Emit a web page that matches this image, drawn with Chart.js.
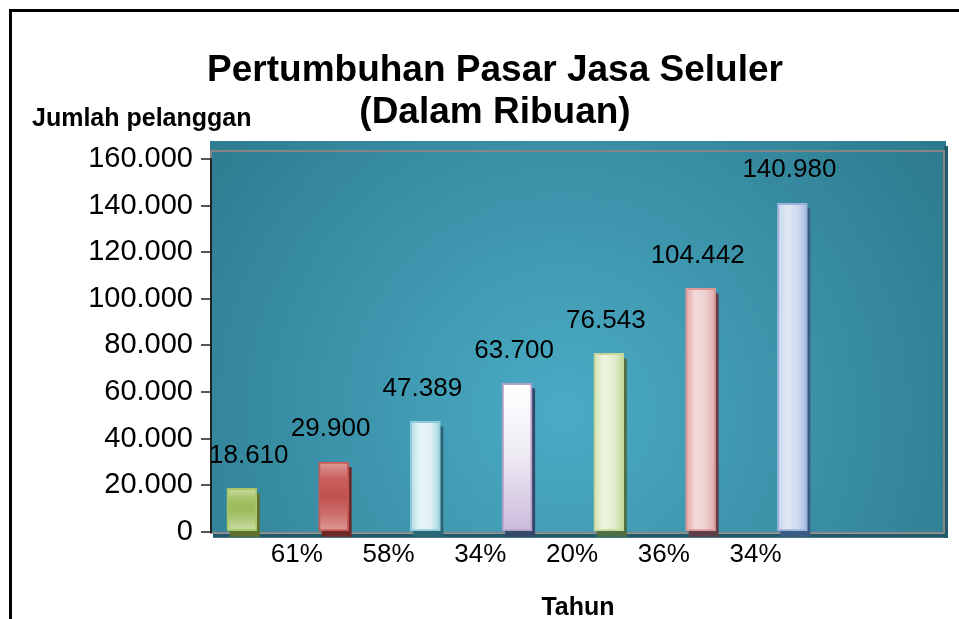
<!DOCTYPE html>
<html>
<head>
<meta charset="utf-8">
<script src="https://cdn.jsdelivr.net/npm/chart.js@4.4.1/dist/chart.umd.min.js"></script>
<style>
  html, body { margin: 0; padding: 0; background: #fff; overflow: hidden; }
  #frame { position: absolute; left: 9px; top: 9px; width: 966px; height: 613px;
           border-left: 3px solid #000; border-top: 3px solid #000; }
  canvas { display: block; }
</style>
</head>
<body>
<div id="frame"><canvas id="marketChart" width="966" height="613"></canvas></div>
<script>
// Chart data
const titleLines = ['Pertumbuhan Pasar Jasa Seluler', '(Dalam Ribuan)'];
const yAxisLabel = 'Jumlah pelanggan';
const xAxisLabel = 'Tahun';
const categories = ['1', '2', '3', '4', '5', '6', '7', '8'];
const subscribers = [18610, 29900, 47389, 63700, 76543, 104442, 140980];
const growthLabels = ['61%', '58%', '34%', '20%', '36%', '34%'];
const yTicks = [0, 20000, 40000, 60000, 80000, 100000, 120000, 140000, 160000];

// Bar styling
const barBorders = ['#a9c566', '#c85a57', '#8fcbdb', '#b3a0c9', '#c5d899', '#dc9898', '#9bb3da'];
const barShadows = ['#5f7030', '#6e2826', '#2a6675', '#34486a', '#4d6e45', '#5e3e48', '#3a5c84'];
const barGlossDir = ['v', 'v', 'h', 'v', 'h', 'h', 'h'];
const barStops = [
    ['#c9dca4', '#a5c267', '#9bbb59', '#b2cb7e', '#cadea7'],
    ['#dd9c9a', '#c95f5c', '#c0504d', '#cd6e6b', '#dc9a98'],
    ['#b5dde8', '#e6f4f7', '#dff0f5', '#a8d6e2'],
    ['#ffffff', '#eeeaf3', '#cbbadb'],
    ['#d3e3b3', '#eef4e0', '#e4edd0', '#c3d79a'],
    ['#e3a3a3', '#f3dbdb', '#efd0d0', '#e2aaaa'],
    ['#c8d5ec', '#dfe7f3', '#cfdaee', '#a5b9dd']
];

const FONT = '"Liberation Sans", Arial, sans-serif';
const fmt = v => String(v).replace(/\B(?=(\d{3})+(?!\d))/g, '.');

// Teal plot wall, gray frame, dark floor
const plotWall = {
    id: 'plotWall',
    beforeDraw(chart) {
        const { ctx, chartArea: a } = chart;
        const w = a.right - a.left, h = a.bottom - a.top;
        ctx.save();
        const g = ctx.createRadialGradient(a.left + w * 0.48, a.top + h * 0.68, 10,
                                           a.left + w * 0.48, a.top + h * 0.68, w * 0.62);
        g.addColorStop(0, '#4aaac4');
        g.addColorStop(1, '#2d7b8f');
        ctx.fillStyle = g;
        ctx.fillRect(a.left - 1, a.top - 18, w + 2, h + 19);
        ctx.fillStyle = '#205a6a';
        ctx.fillRect(a.right - 1, a.top - 13, 4, h + 19);
        ctx.fillRect(a.left + 2, a.bottom + 2, w + 1, 4);
        ctx.strokeStyle = '#858585';
        ctx.lineWidth = 2;
        ctx.strokeRect(a.left, a.top - 8, w - 1, h + 9);
        ctx.restore();
    }
};

// Glossy bars with shadow, value labels, horizontal y caption
const barGloss = {
    id: 'barGloss',
    beforeDatasetsDraw(chart) {
        const ctx = chart.ctx;
        chart.getDatasetMeta(0).data.forEach((bar, i) => {
            const left = bar.x - bar.width / 2, right = bar.x + bar.width / 2;
            ctx.fillStyle = barShadows[i];
            ctx.fillRect(left + 3, bar.y + 5, bar.width, bar.base - bar.y + 1);
            const g = barGlossDir[i] === 'v'
                ? ctx.createLinearGradient(0, bar.y, 0, bar.base)
                : ctx.createLinearGradient(left, 0, right, 0);
            barStops[i].forEach((c, k, arr) => g.addColorStop(k / (arr.length - 1), c));
            bar.options = Object.assign({}, bar.options, { backgroundColor: g });
        });
    },
    afterDatasetsDraw(chart) {
        const { ctx, chartArea: a } = chart;
        ctx.save();
        ctx.font = '26px ' + FONT;
        ctx.fillStyle = '#000';
        ctx.textAlign = 'center';
        ctx.textBaseline = 'middle';
        chart.getDatasetMeta(0).data.forEach((bar, i) => {
            const text = fmt(subscribers[i]);
            const tw = ctx.measureText(text).width;
            let x = bar.x - 3;
            if (x - tw / 2 < a.left - 2) x = a.left - 2 + tw / 2;
            ctx.fillText(text, x, bar.y - 33);
        });
        ctx.font = 'bold 25px ' + FONT;
        ctx.textAlign = 'left';
        ctx.textBaseline = 'alphabetic';
        ctx.fillText(yAxisLabel, 20, a.top - 33);
        ctx.restore();
    }
};

const ctx = document.getElementById('marketChart').getContext('2d');
const chart = new Chart(ctx, {
    type: 'bar',
    data: {
        labels: categories,
        datasets: [
            {
                label: yAxisLabel,
                data: subscribers,
                backgroundColor: barBorders,
                borderColor: barBorders,
                borderWidth: 2,
                borderSkipped: false,
                barThickness: 30
            },
            {
                // empty depth series, keeps the bars in the left half of each slot
                label: '',
                data: [],
                barThickness: 30
            }
        ]
    },
    options: {
        responsive: false,
        animation: false,
        layout: { padding: { left: 33, right: 33, top: 0, bottom: 0 } },
        plugins: {
            legend: { display: false },
            tooltip: { enabled: false },
            title: {
                display: true,
                text: titleLines,
                color: '#000',
                font: { family: FONT, size: 37, weight: 'bold', lineHeight: 42 / 37 },
                padding: { top: 38, bottom: 25 }
            }
        },
        scales: {
            x: {
                display: false
            },
            xp: {
                type: 'category',
                position: 'bottom',
                labels: [''].concat(growthLabels, ['', '']),
                offset: false,
                grid: { display: false, drawTicks: false },
                border: { display: false },
                ticks: {
                    color: '#000',
                    font: { family: FONT, size: 26 },
                    padding: 7,
                    labelOffset: -6,
                    autoSkip: false,
                    maxRotation: 0
                },
                title: {
                    display: true,
                    text: xAxisLabel,
                    color: '#000',
                    font: { family: FONT, size: 25, weight: 'bold' },
                    padding: { top: 16, bottom: 2 }
                }
            },
            y: {
                min: 0,
                max: 160000,
                afterBuildTicks: scale => { scale.ticks = yTicks.map(v => ({ value: v })); },
                afterFit: scale => { scale.width = 166; },
                grid: {
                    drawOnChartArea: false,
                    drawTicks: true,
                    tickLength: 10,
                    color: '#555',
                    lineWidth: 2
                },
                border: { color: '#222', width: 2 },
                ticks: {
                    color: '#000',
                    font: { family: FONT, size: 29 },
                    padding: 8,
                    callback: value => fmt(value)
                }
            }
        }
    },
    plugins: [plotWall, barGloss]
});
</script>
</body>
</html>
